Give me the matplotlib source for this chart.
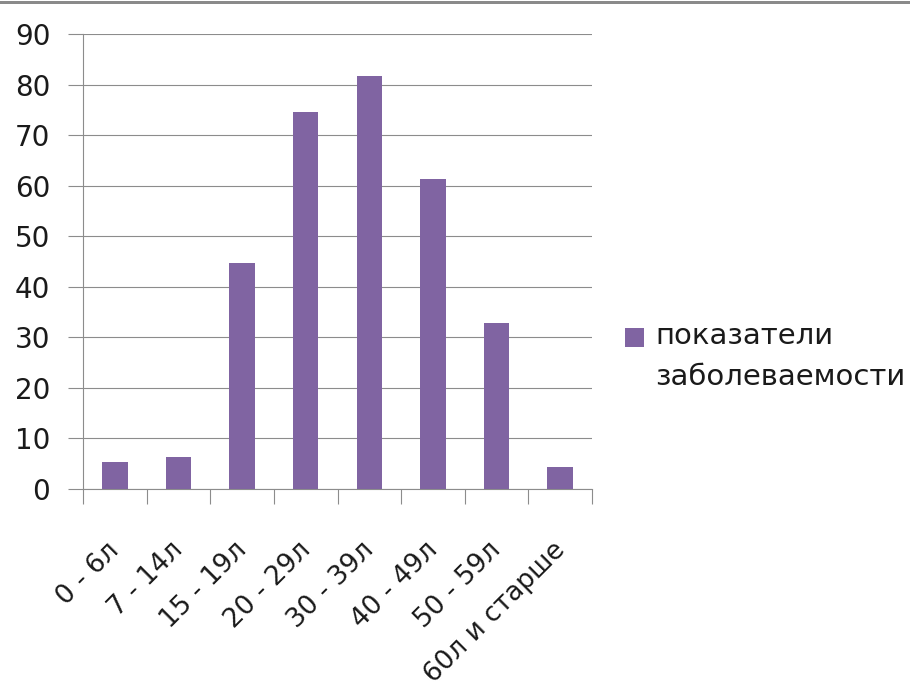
import matplotlib
matplotlib.use("Agg")
import matplotlib.pyplot as plt
from matplotlib.lines import Line2D
from matplotlib.patches import Rectangle
from matplotlib.legend_handler import HandlerBase
from matplotlib.transforms import ScaledTranslation

categories = ["0 - 6л", "7 - 14л", "15 - 19л", "20 - 29л", "30 - 39л", "40 - 49л", "50 - 59л", "60л и старше"]
values = [5.2, 6.2, 44.6, 74.5, 81.7, 61.3, 32.8, 4.2]
series_name = "показатели заболеваемости"
yticks = [0, 10, 20, 30, 40, 50, 60, 70, 80, 90]

BAR = "#8064A2"
GRID = "#8c8c8c"
TXT = "#1a1a1a"

plt.rcParams["font.family"] = ["DejaVu Sans"]

W, H = 910, 688
fig = plt.figure(figsize=(W / 100, H / 100), dpi=100)
ax = fig.add_axes([83 / W, 1 - 488.7 / H, (592 - 83) / W, (488.7 - 34) / H])

x = list(range(len(categories)))
bars = ax.bar(x, values, width=0.4, color=BAR, zorder=3, label=series_name)

ax.set_xlim(-0.5, len(categories) - 0.5)
ax.set_ylim(0, 90)
ax.set_yticks(yticks)
ax.set_yticklabels([str(v) for v in yticks])
ax.yaxis.grid(True, color=GRID, linewidth=0.8, zorder=0)
ax.set_axisbelow(True)

# category boundaries as tick marks
ax.set_xticks([i - 0.5 for i in range(len(categories) + 1)], minor=False)
ax.set_xticklabels([""] * (len(categories) + 1))
ax.set_xticks(x, minor=True)
ax.set_xticklabels(categories, minor=True, rotation=45, ha="right",
                   fontsize=19, color=TXT)
ax.tick_params(axis="x", which="minor", length=0, pad=35)
ax.tick_params(axis="x", which="major", length=11, width=0.8, color=GRID)
ax.tick_params(axis="y", length=11, width=0.8, color=GRID, pad=12.5,
               labelsize=20, labelcolor=TXT)
off = ScaledTranslation(10 / 100, 0, fig.dpi_scale_trans)
for lab in ax.get_xticklabels(minor=True):
    lab.set_transform(lab.get_transform() + off)

for s in ["top", "right"]:
    ax.spines[s].set_visible(False)
for s in ["left", "bottom"]:
    ax.spines[s].set_color(GRID)
    ax.spines[s].set_linewidth(0.8)


class TopSquare(HandlerBase):
    def create_artists(self, legend, orig_handle, xdescent, ydescent,
                       width, height, fontsize, trans):
        s = 13.7
        r = Rectangle((-xdescent, 14.5), s, s, facecolor=BAR,
                      edgecolor="none", transform=trans)
        return [r]


fs = 21
leg = fig.legend(handles=[bars], labels=["показатели\nзаболеваемости"],
                 handler_map={type(bars): TopSquare()},
                 loc="upper left", bbox_to_anchor=(625 / W, 1 - 322 / H),
                 frameon=False, borderpad=0, borderaxespad=0,
                 handlelength=13.7 / fs, handletextpad=0.38,
                 prop={"size": fs})
for t in leg.get_texts():
    t.set_linespacing(1.6)
    t.set_color(TXT)

fig.add_artist(Line2D([0, 1], [1 - 1.5 / H] * 2, transform=fig.transFigure,
                      color="#8a8a8a", linewidth=3 * 0.72))

fig.savefig("out.png", dpi=100, facecolor="white")
